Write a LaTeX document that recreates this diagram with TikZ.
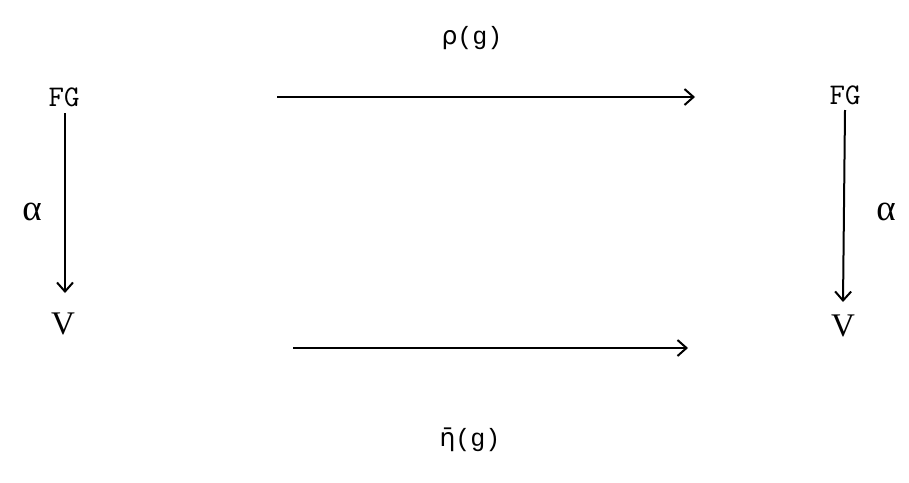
\documentclass[tikz,border=0pt]{standalone}
\usepackage{fontspec}
\setmainfont{Liberation Serif}
\newfontfamily\monof{Liberation Mono}
\newfontfamily\greekf{DejaVu Sans}
\usetikzlibrary{arrows.meta}
\begin{document}
\begin{tikzpicture}[x=1pt,y=-1pt,
  arr/.style={line width=2pt,-{Straight Barb[length=9pt,width=16pt,line width=2pt]}},
  objlab/.style={inner sep=0pt,font=\fontsize{33}{33}\selectfont},
  greeklab/.style={inner sep=0pt,font=\fontsize{37}{37}\selectfont},
  monolab/.style={inner sep=0pt,font=\ttfamily\fontsize{30}{30}\selectfont},
  maplab/.style={inner sep=0pt,font=\monof\fontsize{25}{25}\selectfont}]
\useasboundingbox (0,0) rectangle (909,482);
\node[monolab] (fgL) at (64,97) {FG};
\node[monolab] (fgR) at (845,95) {FG};
\node[objlab] (vL) at (63,324) {V};
\node[objlab] (vR) at (843,326) {V};
\node[greeklab] (aL) at (32,212) {α};
\node[greeklab] (aR) at (886,212) {α};
\node[maplab] (rho) at (472,38) {{\greekf ρ}(g)};
\node[maplab] (eta) at (470,440) {{\greekf η\char"0304}(g)};
\coordinate (t1) at (277,97);
\coordinate (t2) at (695,97);
\coordinate (b1) at (293,348);
\coordinate (b2) at (688,348);
\coordinate (l1) at (65,113);
\coordinate (l2) at (65,293);
\coordinate (r1) at (845,110);
\coordinate (r2) at (843,302);
\draw[arr] (t1) -- (t2);
\draw[arr] (b1) -- (b2);
\draw[arr] (l1) -- (l2);
\draw[arr] (r1) -- (r2);
\end{tikzpicture}
\end{document}
